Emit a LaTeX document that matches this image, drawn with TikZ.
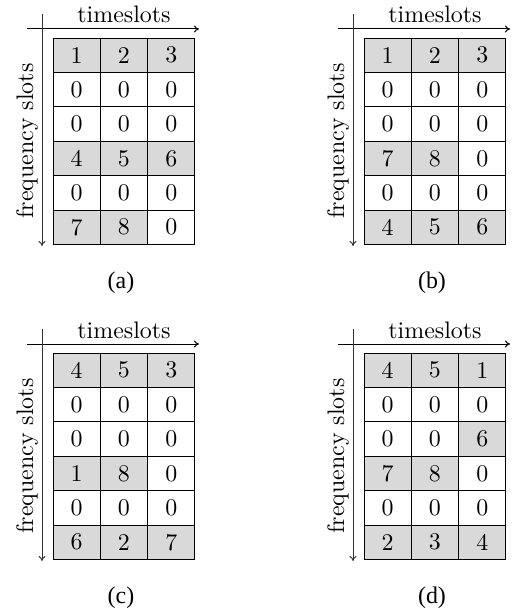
\documentclass[tikz,border=0pt]{standalone}
\usepackage{fontspec}
\newfontfamily\capfont{Liberation Serif}
\usetikzlibrary{arrows.meta}
\newcommand{\bigtxt}[1]{\scalebox{2.4}{\fontsize{10}{12}\selectfont #1}}
\tikzset{
  cellbox/.style={draw=black, line width=0.9bp, minimum width=47.3bp, minimum height=34.4bp, inner sep=0pt, anchor=center},
  filled/.style={fill=black!15},
  axisline/.style={line width=1bp, -{To[length=5bp,width=7bp]}},
  axislabel/.style={inner sep=0pt},
  captext/.style={font=\capfont\fontsize{24}{24}\selectfont, inner sep=0pt, anchor=base}
}
\newcommand{\slotgrid}[5]{%
  % #1 name, #2 x-left, #3 y-top, #4 list of entries row-wise (value/fill), #5 caption
  \begin{scope}[shift={(#2,#3)}]
    \coordinate (#1-ha) at (-26,-9);
    \coordinate (#1-hb) at (146,-9);
    \coordinate (#1-va) at (-11,-24);
    \coordinate (#1-vb) at (-11,208);
    \draw[axisline] (#1-ha) -- (#1-hb);
    \draw[axisline, draw=black!80] (#1-va) -- (#1-vb);
    \node[axislabel, anchor=base] (#1-t) at (71,-15) {\bigtxt{timeslots}};
    \node[axislabel, anchor=base, rotate=90] (#1-f) at (-20,103) {\bigtxt{frequency slots}};
    \foreach \v/\f [count=\i from 0] in {#4} {
      \pgfmathtruncatemacro{\r}{div(\i,3)}
      \pgfmathtruncatemacro{\c}{mod(\i,3)}
      \ifnum\f=1
        \node[cellbox, filled] (#1-\r-\c) at ({23.65+47.3*\c},{17.2+34.4*\r}) {\bigtxt{\v}};
      \else
        \node[cellbox] (#1-\r-\c) at ({23.65+47.3*\c},{17.2+34.4*\r}) {\bigtxt{\v}};
      \fi
    }
    \node[captext] (#1-cap) at (68,250) {#5};
  \end{scope}
}
\begin{document}
\begin{tikzpicture}[x=1bp,y=-1bp]
\useasboundingbox (0,0) rectangle (515,610);
\slotgrid{a}{53}{38}{1/1,2/1,3/1,0/0,0/0,0/0,0/0,0/0,0/0,4/1,5/1,6/1,0/0,0/0,0/0,7/1,8/1,0/0}{(a)}
\slotgrid{b}{364}{38}{1/1,2/1,3/1,0/0,0/0,0/0,0/0,0/0,0/0,7/1,8/1,0/0,0/0,0/0,0/0,4/1,5/1,6/1}{(b)}
\slotgrid{c}{53}{353}{4/1,5/1,3/1,0/0,0/0,0/0,0/0,0/0,0/0,1/1,8/1,0/0,0/0,0/0,0/0,6/1,2/1,7/1}{(c)}
\slotgrid{d}{364}{353}{4/1,5/1,1/1,0/0,0/0,0/0,0/0,0/0,6/1,7/1,8/1,0/0,0/0,0/0,0/0,2/1,3/1,4/1}{(d)}
\end{tikzpicture}
\end{document}
